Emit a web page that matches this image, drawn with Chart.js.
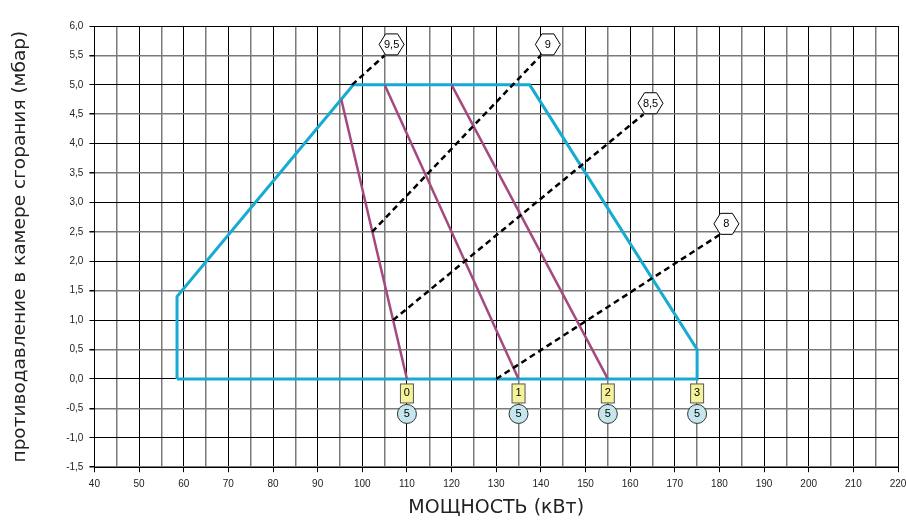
<!DOCTYPE html>
<html>
<head>
<meta charset="utf-8">
<script src="https://cdn.jsdelivr.net/npm/chart.js@4.4.1/dist/chart.umd.min.js"></script>
<style>
  html, body { margin: 0; padding: 0; background: #fff; }
  #wrap { width: 906px; height: 525px; }
</style>
</head>
<body>
<div id="wrap"><canvas id="burnerChart"></canvas></div>
<script>
// working field of the burner (blue outline)
const fieldX = [58.5, 58.5, 98, 137.5, 175, 175, 58.5];
const fieldY = [0, 1.4, 5.0, 5.0, 0.5, 0, 0];

// stage lines (purple)
const stageStartX = [95.3, 105, 120];
const stageStartY = [4.75, 5.0, 5.0];
const stageEndX = [110, 135, 155];
const stageEndY = [0, 0, 0];

// dashed lines with hexagon labels
const dashLabels = ['9,5', '9', '8,5', '8'];
const dashStartX = [97.7, 102.2, 106.9, 130];
const dashStartY = [5.0, 2.5, 1.0, 0];
const dashEndX = [105, 140, 163, 180];
const dashEndY = [5.5, 5.5, 4.5, 2.45];

// markers under the zero line
const markerX = [110, 135, 155, 175];
const markerLabels = ['0', '1', '2', '3'];
const markerCircle = ['5', '5', '5', '5'];

const xTitle = 'МОЩНОСТЬ (кВт)';
const yTitle = 'противодавление в камере сгорания (мбар)';

const FONT = "'Liberation Sans', Arial, sans-serif";
const TITLE_FONT = "'DejaVu Sans', sans-serif";

const toPoints = (xs, ys) => xs.map((x, i) => ({ x: x, y: ys[i] }));

const datasets = [];
dashStartX.forEach((x, i) => {
  datasets.push({
    data: [{ x: x, y: dashStartY[i] }, { x: dashEndX[i], y: dashEndY[i] }],
    borderColor: '#000',
    borderWidth: 2.5,
    borderDash: [6, 4],
  });
});
stageStartX.forEach((x, i) => {
  datasets.push({
    data: [{ x: x, y: stageStartY[i] }, { x: stageEndX[i], y: stageEndY[i] }],
    borderColor: '#a3497f',
    borderWidth: 2.5,
  });
});
datasets.push({
  data: toPoints(fieldX, fieldY),
  borderColor: '#17abd2',
  borderWidth: 3,
});

// hexagons at the end of dashed lines, boxes + circles under the zero line
const labelsPlugin = {
  id: 'labels',
  afterDatasetsDraw(chart) {
    const ctx = chart.ctx;
    const xs = chart.scales.x, ys = chart.scales.y;
    ctx.save();
    ctx.font = '11px ' + FONT;
    ctx.textAlign = 'center';
    ctx.textBaseline = 'middle';

    dashLabels.forEach((t, i) => {
      const cx = xs.getPixelForValue(dashEndX[i]) + 7;
      const cy = ys.getPixelForValue(dashEndY[i]) - 11;
      const w = 12.5, h = 10.5, f = 6;
      ctx.beginPath();
      ctx.moveTo(cx - w, cy);
      ctx.lineTo(cx - f, cy - h);
      ctx.lineTo(cx + f, cy - h);
      ctx.lineTo(cx + w, cy);
      ctx.lineTo(cx + f, cy + h);
      ctx.lineTo(cx - f, cy + h);
      ctx.closePath();
      ctx.fillStyle = '#fff';
      ctx.fill();
      ctx.strokeStyle = '#000';
      ctx.lineWidth = 1;
      ctx.stroke();
      ctx.fillStyle = '#000';
      ctx.fillText(t, cx, cy + 0.5);
    });

    const y0 = ys.getPixelForValue(0);
    markerX.forEach((v, i) => {
      const cx = xs.getPixelForValue(v);
      ctx.fillStyle = '#f6f29a';
      ctx.strokeStyle = '#555';
      ctx.lineWidth = 1;
      ctx.fillRect(cx - 6.5, y0 + 5, 13, 19);
      ctx.strokeRect(cx - 6.5, y0 + 5, 13, 19);
      ctx.fillStyle = '#000';
      ctx.fillText(markerLabels[i], cx, y0 + 14.5);

      ctx.beginPath();
      ctx.arc(cx, y0 + 35, 9.5, 0, Math.PI * 2);
      ctx.fillStyle = '#c6e6ee';
      ctx.fill();
      ctx.strokeStyle = '#333';
      ctx.stroke();
      ctx.fillStyle = '#000';
      ctx.fillText(markerCircle[i], cx, y0 + 35.5);
    });
    ctx.restore();
  }
};

new Chart(document.getElementById('burnerChart'), {
  type: 'scatter',
  data: { datasets: datasets },
  plugins: [labelsPlugin],
  options: {
    responsive: true,
    maintainAspectRatio: false,
    animation: false,
    showLine: true,
    elements: { point: { radius: 0, hoverRadius: 0 }, line: { tension: 0 } },
    layout: { padding: { top: 26, right: 0, left: 0, bottom: 0 } },
    plugins: { legend: { display: false }, tooltip: { enabled: false } },
    scales: {
      x: {
        type: 'linear',
        min: 40,
        max: 220,
        afterFit: (s) => { s.paddingRight = 8; },
        border: { color: '#000', width: 1 },
        grid: {
          color: (c) => (c.tick && c.tick.value % 10 === 0) ? '#000' : '#7a7a7a',
          lineWidth: (c) => (c.tick && c.tick.value % 10 === 0) ? 1 : 1.5,
          tickColor: (c) => (c.tick && c.tick.value % 10 === 0) ? '#000' : 'rgba(0,0,0,0)',
          tickLength: 5,
        },
        ticks: {
          stepSize: 5,
          autoSkip: false,
          maxRotation: 0,
          padding: 6,
          color: '#222',
          font: { family: FONT, size: 10 },
          callback: (v) => v % 10 === 0 ? String(v) : '',
        },
        title: {
          display: true,
          text: xTitle,
          color: '#222',
          font: { family: TITLE_FONT, size: 19 },
          padding: { top: 0, bottom: 6 },
        },
      },
      y: {
        type: 'linear',
        min: -1.5,
        max: 6,
        border: { color: '#000', width: 1 },
        grid: {
          color: (c) => (c.tick && Number.isInteger(c.tick.value)) ? '#000' : '#7a7a7a',
          lineWidth: (c) => (c.tick && Number.isInteger(c.tick.value)) ? 1 : 1.5,
          tickColor: '#000',
          tickLength: 5,
        },
        ticks: {
          stepSize: 0.5,
          padding: 6,
          color: '#222',
          font: { family: FONT, size: 10 },
          callback: (v) => (Math.round(v * 10) / 10).toFixed(1).replace('.', ','),
        },
        title: {
          display: true,
          text: yTitle,
          color: '#222',
          font: { family: TITLE_FONT, size: 18.5 },
          padding: { top: 9, bottom: 29 },
        },
      },
    },
  },
});
</script>
</body>
</html>
